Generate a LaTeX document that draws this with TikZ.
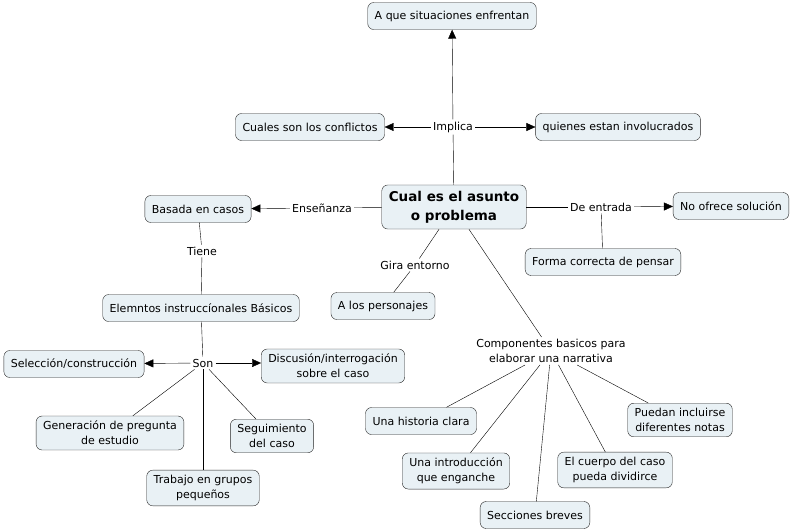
\documentclass[tikz,border=0pt]{standalone}
\usepackage{fontspec}
\setmainfont{DejaVu Sans}
\usetikzlibrary{arrows.meta}
\definecolor{fondocaja}{RGB}{233,241,245}
\begin{document}
\begin{tikzpicture}[x=1pt,y=-1pt]
                \tikzstyle{every node}+=[font=\fontsize{11}{15}\selectfont]
                \tikzstyle{concepto}=[draw=black!85, fill=fondocaja, rounded corners=6pt, align=center, inner xsep=7pt, inner ysep=5pt, minimum height=27pt]
                \tikzstyle{enlace}=[inner sep=2pt, align=center]
                \tikzstyle{flecha}=[-{Triangle[length=9pt,width=8pt]}]
                \useasboundingbox (0,0) rectangle (793,531);
                % conceptos
                \node [concepto, font=\bfseries\fontsize{13.5}{19}\selectfont, inner ysep=6pt] (asunto) at (454,207) {Cual es el asunto\\o problema};
                \node [concepto] (situaciones) at (452,16) {A que situaciones enfrentan};
                \node [concepto] (conflictos) at (310,127) {Cuales son los conflictos};
                \node [concepto] (involucrados) at (618,127) {quienes estan involucrados};
                \node [concepto] (basada) at (198,209) {Basada en casos};
                \node [concepto] (elementos) at (201,308) {Elemntos instruccíonales Básicos};
                \node [concepto] (seleccion) at (74,364) {Selección/construcción};
                \node [concepto] (discusion) at (333,366) {Discusión/interrogación\\sobre el caso};
                \node [concepto] (generacion) at (110,433) {Generación de pregunta\\de estudio};
                \node [concepto] (seguimiento) at (272,436) {Seguimiento\\del caso};
                \node [concepto] (trabajo) at (203,488) {Trabajo en grupos\\pequeños};
                \node [concepto] (personajes) at (383,306) {A los personajes};
                \node [concepto] (nosolucion) at (731,206) {No ofrece solución};
                \node [concepto] (forma) at (603,262) {Forma correcta de pensar};
                \node [concepto] (historia) at (421,421) {Una historia clara};
                \node [concepto] (intro) at (456,471) {Una introducción\\que enganche};
                \node [concepto] (secciones) at (535,515) {Secciones breves};
                \node [concepto] (cuerpo) at (615,470) {El cuerpo del caso\\pueda dividirce};
                \node [concepto] (notas) at (680,420) {Puedan incluirse\\diferentes notas};
                % enlaces
                \node [enlace] (implica) at (453,127) {Implica};
                \node [enlace] (ensenanza) at (322,208) {Enseñanza};
                \node [enlace] (tiene) at (202,251) {Tiene};
                \node [enlace] (son) at (203,363) {Son};
                \node [enlace] (gira) at (415,265) {Gira entorno};
                \node [enlace] (entrada) at (601,207) {De entrada};
                \node [enlace] (componentes) at (551,351) {Componentes basicos para\\elaborar una narrativa};
                % conexiones
                \draw (asunto) -- (implica);
                \draw [flecha] (implica) -- (situaciones);
                \draw [flecha] (implica) -- (conflictos);
                \draw [flecha] (implica) -- (involucrados);
                \draw (asunto) -- (ensenanza);
                \draw [flecha] (ensenanza) -- (basada);
                \draw (basada) -- (tiene);
                \draw (tiene) -- (elementos);
                \draw (elementos) -- (son);
                \draw [flecha] (son) -- (seleccion);
                \draw [flecha] (son) -- (son -| discusion.west);
                \draw (son) -- (generacion);
                \draw (son) -- (seguimiento);
                \draw (son) -- (trabajo);
                \draw (asunto) -- (gira);
                \draw (gira) -- (personajes);
                \draw (asunto) -- (entrada);
                \draw [flecha] (entrada) -- (nosolucion);
                \draw (entrada) -- (forma);
                \draw (asunto) -- (componentes);
                \draw (componentes) -- (historia);
                \draw (componentes) -- (intro);
                \draw (componentes) -- (secciones);
                \draw (componentes) -- (cuerpo);
                \draw (componentes) -- (notas);
\end{tikzpicture}
\end{document}
